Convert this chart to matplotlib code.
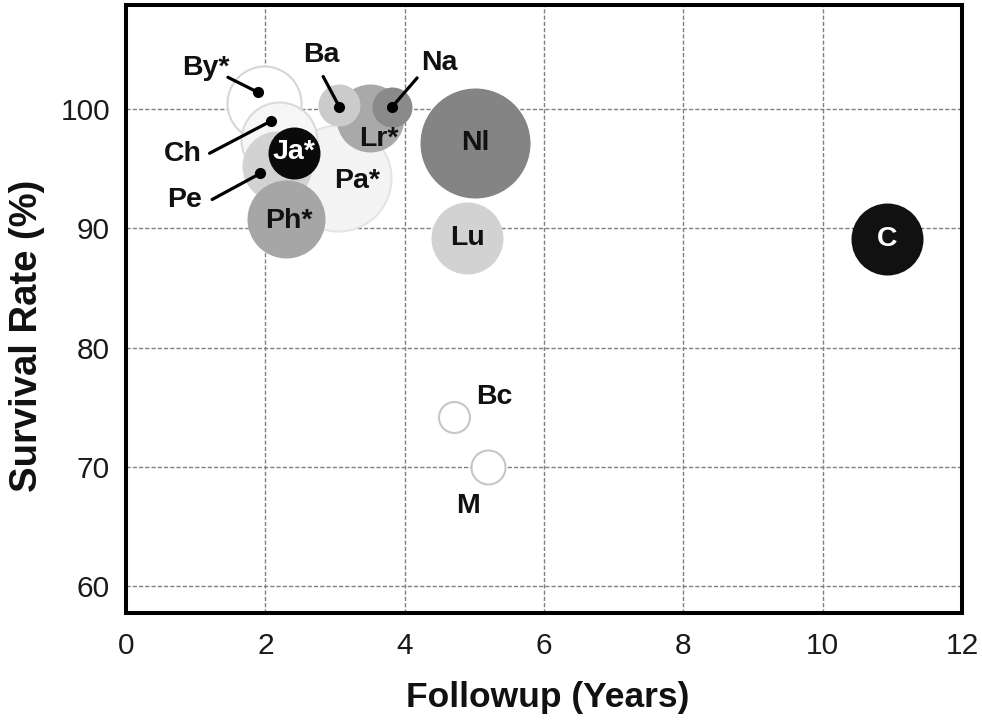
import matplotlib
matplotlib.use('Agg')
import matplotlib.pyplot as plt
from matplotlib.transforms import offset_copy

plt.rcParams['font.family'] = ['Liberation Sans', 'DejaVu Sans']

# ---------------- data ----------------
studies = ['By*', 'Pa*', 'Ch', 'Pe', 'Ph*', 'Ja*', 'Lr*', 'Ba', 'Na', 'Nl', 'Lu', 'C', 'Bc', 'M']
followup_years = [1.98, 3.04, 2.19, 2.17, 2.29, 2.41, 3.50, 3.06, 3.82, 5.01, 4.90, 10.92, 4.71, 5.20]
survival_rate = [100.5, 94.2, 97.4, 95.2, 90.8, 96.3, 99.3, 100.4, 100.2, 97.2, 89.2, 89.1, 74.2, 70.0]
study_size = [37, 53, 38, 35, 39, 26, 34, 21, 20, 55, 36, 36, 15.5, 17]   # relative bubble radius
x_ticks = [0, 2, 4, 6, 8, 10, 12]
y_ticks = [60, 70, 80, 90, 100]

# ---------------- styles / layout ----------------
fill = {'By*': '#ffffff', 'Pa*': '#f4f4f4', 'Ch': '#f6f6f6', 'Pe': '#d2d2d2', 'Ph*': '#a6a6a6',
        'Ja*': '#0a0a0a', 'Lr*': '#a9a9a9', 'Ba': '#cbcbcb', 'Na': '#8a8a8a', 'Nl': '#848484',
        'Lu': '#d2d2d2', 'C': '#111111', 'Bc': '#ffffff', 'M': '#ffffff'}
edge = {'By*': '#d6d6d6', 'Pa*': '#e4e4e4', 'Ch': '#dadada', 'Bc': '#c6c6c6', 'M': '#c6c6c6'}
white_text = {'Ja*', 'C'}
# label offsets (pixels, image y downward) relative to bubble center
label_off = {'By*': (-58, -35), 'Pa*': (19, 3), 'Ch': (-96, 14), 'Pe': (-93, 34),
             'Ph*': (3, 2), 'Ja*': (0, -1), 'Lr*': (9, 21), 'Ba': (-18, -50),
             'Na': (47, -44), 'Nl': (0, 0), 'Lu': (0, 0), 'C': (0, 0),
             'Bc': (40, -20), 'M': (-20, 39)}
# leader lines: (line start offset, dot offset) in pixels relative to bubble center
leaders = {'By*': ((-36, -26), (-6, -11)),
           'Ch': ((-69, 13), (-8, -19)),
           'Pe': ((-65, 33), (-17, 7)),
           'Ba': ((-16, -28), (0, 2)),
           'Na': ((25, -29), (0, 0))}

W, H, DPI = 982, 721, 100
fig = plt.figure(figsize=(W / DPI, H / DPI), dpi=DPI)
ax = fig.add_axes([126 / W, 1 - 613 / H, (962 - 126) / W, (613 - 5) / H])

ax.set_xlim(0, 12)
ax.set_ylim(57.73, 108.75)
ax.set_xticks(x_ticks)
ax.set_yticks(y_ticks)
ax.tick_params(length=0, labelsize=21.5, labelcolor='#1a1a1a')
ax.tick_params(axis='x', pad=14)
ax.tick_params(axis='y', pad=11.5)
ax.grid(True, color='#808080', linestyle=(0, (3, 1.5)), linewidth=1.0)
ax.set_axisbelow(True)
for sp in ax.spines.values():
    sp.set_linewidth(2.9)
    sp.set_color('black')

def off(dx, dy):
    return offset_copy(ax.transData, fig=fig, x=dx, y=-dy, units='dots')

for i, name in enumerate(studies):
    x, y, r = followup_years[i], survival_rate[i], study_size[i]
    ec = edge.get(name, fill[name])
    lw = 1.5 if name in edge else 0
    ax.scatter([x], [y], s=(2 * r * 0.72) ** 2, c=fill[name], edgecolors=ec,
               linewidths=lw, zorder=3 + i)

for i, name in enumerate(studies):
    x, y = followup_years[i], survival_rate[i]
    dx, dy = label_off[name]
    ax.annotate(name, xy=(x, y), xytext=(dx * 0.72, -dy * 0.72), textcoords='offset points',
                ha='center', va='center', fontsize=20.5, fontweight='bold',
                color='white' if name in white_text else '#111111', zorder=40)
    if name in leaders:
        (sx, sy), (ddx, ddy) = leaders[name]
        ax.annotate('', xy=(x, y), xycoords=off(ddx, ddy), xytext=(x, y), textcoords=off(sx, sy),
                    arrowprops=dict(arrowstyle='-', lw=2.3, color='black', shrinkA=0, shrinkB=0),
                    zorder=41)
        ax.plot([x], [y], 'o', ms=7, color='black', transform=off(ddx, ddy), zorder=42)

fig.text(547.5 / W, 1 - 707 / H, 'Followup (Years)', ha='center', va='baseline',
         fontsize=25.5, fontweight='bold', color='#111111')
fig.text(27 / W, 1 - 336 / H, 'Survival Rate (%)', ha='center', va='center', rotation=90,
         fontsize=27.5, fontweight='bold', color='#111111')

fig.savefig('out.png', dpi=DPI)
